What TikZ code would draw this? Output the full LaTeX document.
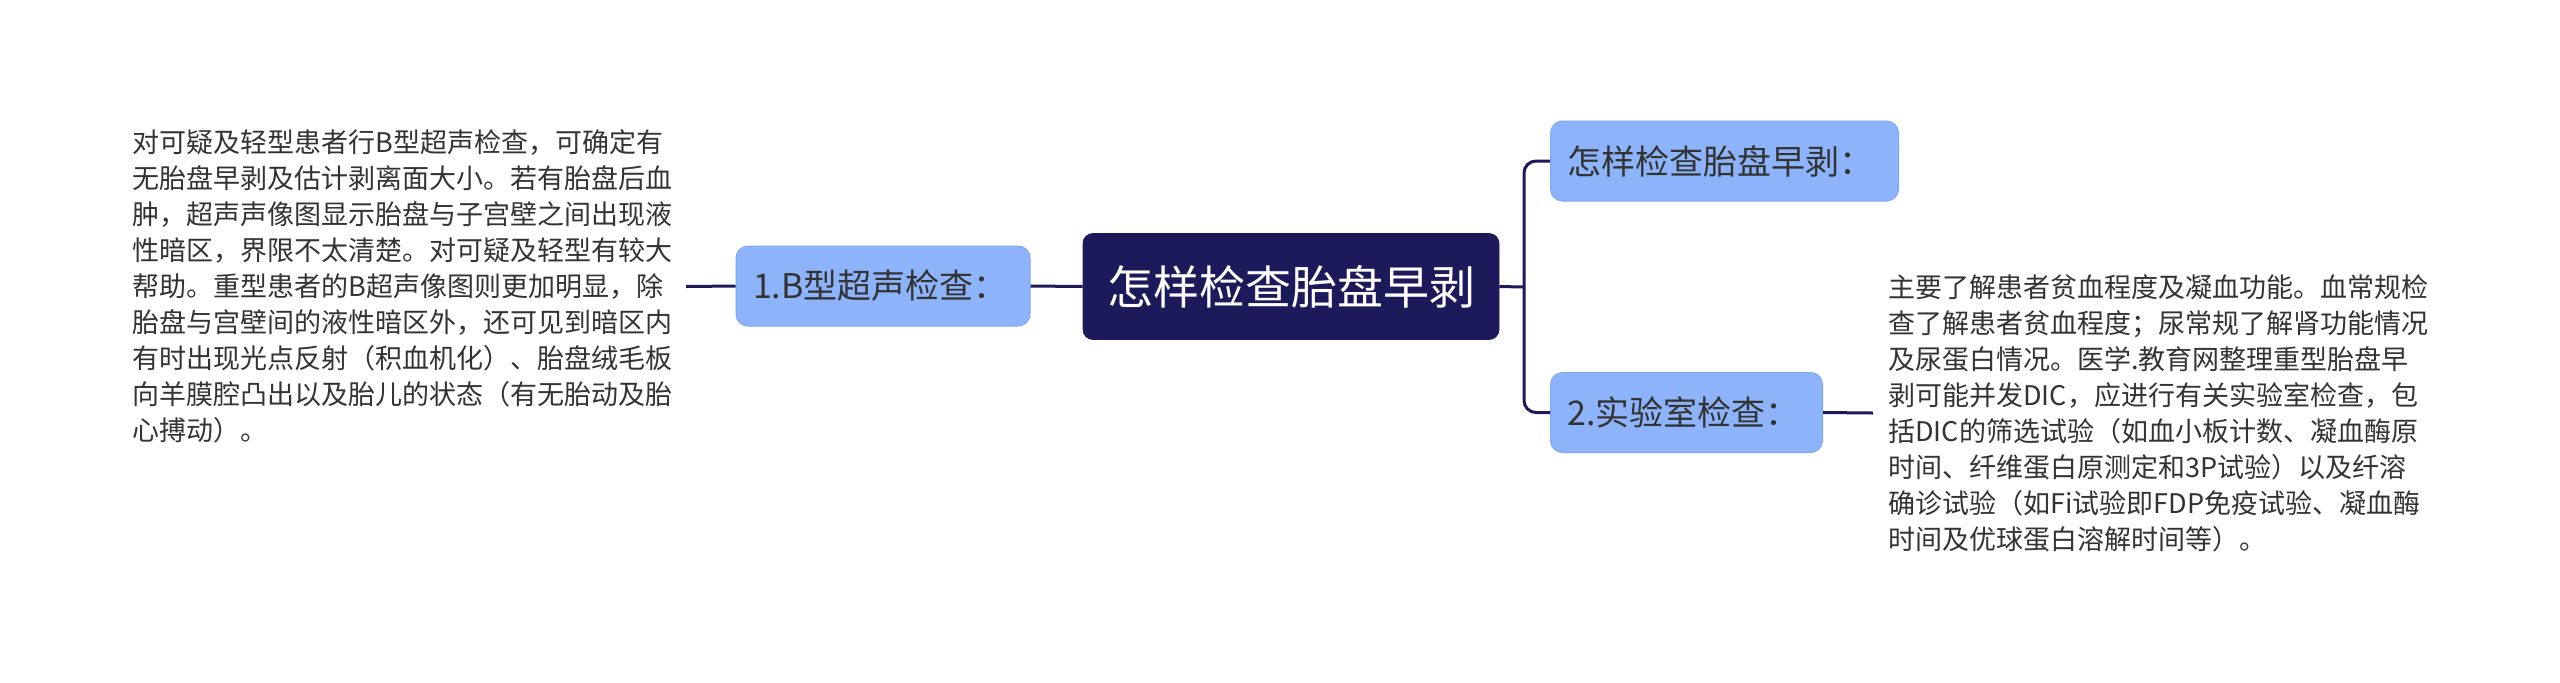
\documentclass[tikz,border=0pt]{standalone}
\usepackage{fontspec}
\setmainfont{Noto Sans CJK SC}
\definecolor{navy}{HTML}{1C1A5B}
\definecolor{child}{HTML}{8DB4FA}
\definecolor{childb}{HTML}{7FA8F2}
\definecolor{txt}{HTML}{333333}
\begin{document}
\begin{tikzpicture}[x=0.5pt,y=-0.5pt,
  rootbox/.style={fill=navy,draw=navy,rounded corners=5pt,minimum width=208pt,minimum height=53pt,text=white,font=\fontsize{23pt}{27pt}\selectfont,inner sep=0pt},
  childbox/.style={fill=child,draw=childb,line width=0.5pt,rounded corners=6pt,minimum height=40pt,text=txt,font=\fontsize{17pt}{20pt}\selectfont,inner xsep=8.5pt,inner ysep=0pt,align=left},
  bodytext/.style={text=txt,align=left,font=\fontsize{13.5pt}{18pt}\selectfont,inner ysep=0pt},
  link/.style={draw=navy,line width=1.5pt}]
\useasboundingbox (0,0) rectangle (2560,682);
\fill[white] (0,0) rectangle (2560,682);
\node[rootbox] (root) at (1291,286.5) {怎样检查胎盘早剥};
\node[childbox,text width=130pt] (left) at (883,286) {1.B型超声检查：};
\node[childbox,text width=157pt] (top) at (1724.5,161) {怎样检查胎盘早剥：};
\node[childbox,text width=119pt] (bot) at (1686.5,412.5) {2.实验室检查：};
\node[bodytext,anchor=east,inner xsep=6.5pt] (lt) at (686,286.5) {对可疑及轻型患者行B型超声检查，可确定有\\无胎盘早剥及估计剥离面大小。若有胎盘后血\\肿，超声声像图显示胎盘与子宫壁之间出现液\\性暗区，界限不太清楚。对可疑及轻型有较大\\帮助。重型患者的B超声像图则更加明显，除\\胎盘与宫壁间的液性暗区外，还可见到暗区内\\有时出现光点反射（积血机化）、胎盘绒毛板\\向羊膜腔凸出以及胎儿的状态（有无胎动及胎\\心搏动）。};
\node[bodytext,anchor=west,inner xsep=7.5pt] (rt) at (1873,413) {主要了解患者贫血程度及凝血功能。血常规检\\查了解患者贫血程度；尿常规了解肾功能情况\\及尿蛋白情况。医学.教育网整理重型胎盘早\\剥可能并发DIC，应进行有关实验室检查，包\\括DIC的筛选试验（如血小板计数、凝血酶原\\时间、纤维蛋白原测定和3P试验）以及纤溶\\确诊试验（如Fi试验即FDP免疫试验、凝血酶\\时间及优球蛋白溶解时间等）。};
\coordinate (j) at (1524,287);
\draw[link] (root.west) -- (left.east);
\draw[link] (left.west) -- (lt.east);
\draw[link] (root.east) -- (j);
\draw[link,rounded corners=6pt] (j) |- (top.west);
\draw[link,rounded corners=6pt] (j) |- (bot.west);
\draw[link] (bot.east) -- (rt.west);
\end{tikzpicture}
\end{document}
